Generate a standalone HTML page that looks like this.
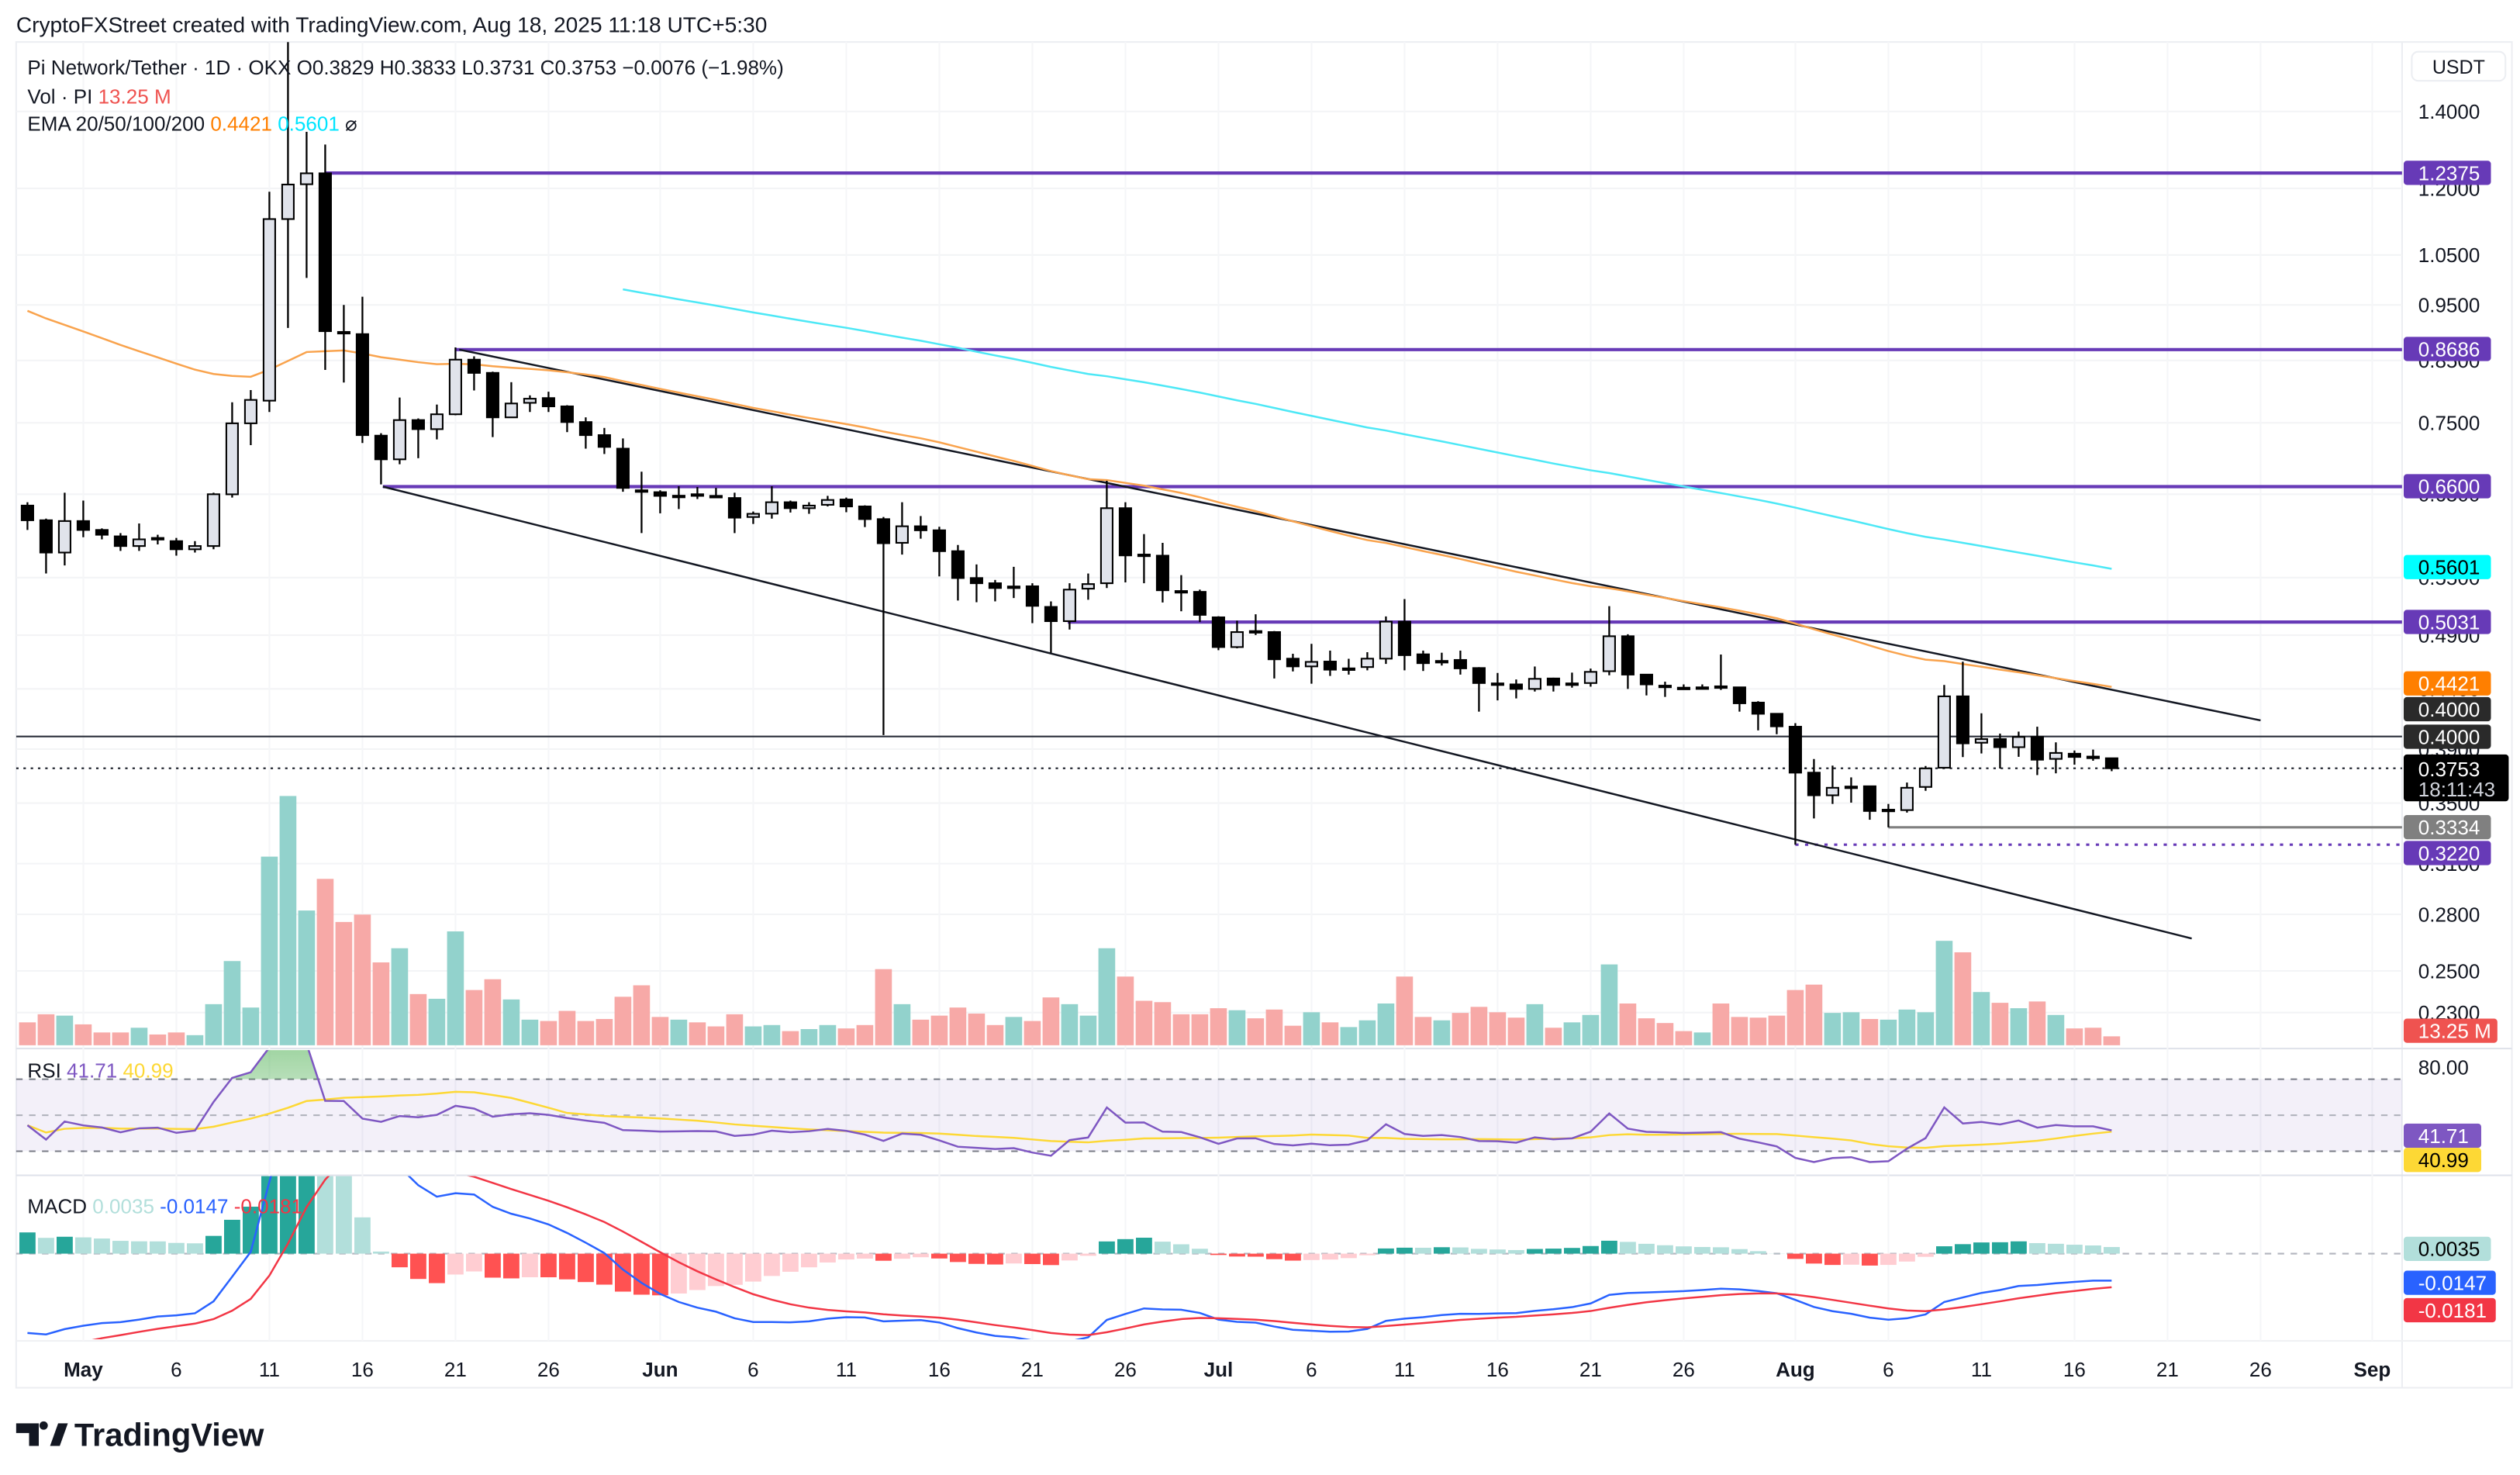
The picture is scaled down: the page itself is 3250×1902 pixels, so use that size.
<!DOCTYPE html>
<html><head><meta charset="utf-8"><style>
html,body{margin:0;padding:0;background:#fff;}
svg{display:block;font-family:"Liberation Sans",sans-serif;}
</style></head><body>
<svg id="chart" width="3250" height="1902" viewBox="0 0 1560 913" preserveAspectRatio="none" xmlns="http://www.w3.org/2000/svg">
<defs>
<clipPath id="cpPrice"><rect x="10" y="26" width="1477" height="622"/></clipPath>
<clipPath id="cpRsi"><rect x="10" y="650" width="1477" height="78"/></clipPath>
<clipPath id="cpMacd"><rect x="10" y="728" width="1477" height="101"/></clipPath>
<clipPath id="cpOB"><rect x="10" y="650" width="1477" height="18"/></clipPath>
<clipPath id="cpOS"><rect x="10" y="712.6" width="1477" height="16"/></clipPath>
<linearGradient id="gOB" x1="0" y1="0" x2="0" y2="1"><stop offset="0" stop-color="#4caf50" stop-opacity="0.55"/><stop offset="1" stop-color="#4caf50" stop-opacity="0.05"/></linearGradient>
<linearGradient id="gOS" x1="0" y1="0" x2="0" y2="1"><stop offset="0" stop-color="#f23645" stop-opacity="0.05"/><stop offset="1" stop-color="#f23645" stop-opacity="0.4"/></linearGradient>
</defs>
<text x="10" y="20" font-size="13.5" fill="#131722">CryptoFXStreet created with TradingView.com, Aug 18, 2025 11:18 UTC+5:30</text>
<rect x="10" y="26" width="1545" height="833" fill="none" stroke="#eceef2" stroke-width="1"/>
<line x1="1487" y1="26" x2="1487" y2="859" stroke="#eceef2"/>
<line x1="10" y1="649" x2="1555" y2="649" stroke="#e0e3eb"/>
<line x1="10" y1="727.5" x2="1555" y2="727.5" stroke="#e0e3eb"/>
<line x1="10" y1="830" x2="1555" y2="830" stroke="#f0f1f4"/>
<g id="grid"></g>
<g id="rsiBand"></g>
<g id="levels" clip-path="url(#cpPrice)"></g>
<g id="vol" clip-path="url(#cpPrice)"></g>
<g id="ema" clip-path="url(#cpPrice)"></g>
<g id="candles" clip-path="url(#cpPrice)"></g>
<g id="rsi" clip-path="url(#cpRsi)"></g>
<g id="macd" clip-path="url(#cpMacd)"></g>
<g id="axis"></g>
<g id="taxis"></g>
<g font-size="12.5">
<text x="17" y="46" fill="#131722">Pi Network/Tether · 1D · OKX  O0.3829  H0.3833  L0.3731  C0.3753  −0.0076 (−1.98%)</text>
<text x="17" y="64" fill="#131722">Vol · PI <tspan fill="#ef5350">13.25 M</tspan></text>
<text x="17" y="81" fill="#131722">EMA 20/50/100/200 <tspan fill="#ff7f00">0.4421</tspan> <tspan fill="#00e5ff">0.5601</tspan> ⌀</text>
<text x="17" y="667" fill="#131722">RSI <tspan fill="#7e57c2">41.71</tspan> <tspan fill="#fdd835">40.99</tspan></text>
<text x="17" y="751" fill="#131722">MACD <tspan fill="#b2dfdb">0.0035</tspan> <tspan fill="#2962ff">-0.0147</tspan> <tspan fill="#f23645">-0.0181</tspan></text>
</g>
<rect x="1493" y="32" width="58" height="18" rx="4" fill="#fff" stroke="#eceef2"/>
<text x="1522" y="45.5" font-size="12" text-anchor="middle" fill="#131722">USDT</text>
<g>
<path d="M10 881 h14 v14 h-6 v-8 h-8 z M27 885 a2.6 2.6 0 1 1 0.01 0 z M31 895 l5 -14 h6 l-5 14 z" fill="#131722"/>
<text x="46" y="895" font-size="20" font-weight="bold" fill="#131722">TradingView</text>
</g>
</svg>
<script>
// ---------- data ----------
const startDayOffset = -3; // first candle = Apr 28 (May 1 = day 0)
const openArr = [
.6354,.6170,.5783,.6160,.6051,.5974,.5859,.5955,.5917,.5821,
.5859,.6499,.7493,.7841,1.1284,1.2100,1.2368,.9000,.8960,.7310,
.6971,.7542,.7406,.7630,.8513,.8290,.7583,.7807,.7882,.7752,
.7512,.7318,.7122,.6552,.6527,.6479,.6500,.6479,.6451,.6210,
.6252,.6397,.6321,.6364,.6432,.6343,.6184,.5897,.6096,.6047,
.5799,.5495,.5438,.5400,.5405,.5186,.5040,.5379,.5438,.6321,
.5760,.5747,.5354,.5345,.5079,.4785,.4941,.4931,.4675,.4603,
.4648,.4582,.4597,.4675,.5035,.4716,.4650,.4663,.4588,.4449,
.4440,.4400,.4493,.4446,.4452,.4559,.4890,.4528,.4429,.4411,
.4411,.4423,.4414,.4281,.4186,.4079,.3720,.3555,.3614,.3620,
.3451,.3451,.3615,.3757,.4335,.3950,.3979,.3915,.3996,.3824,
.3864,.3842,.3829];
const highArr = [
.6397,.6190,.6520,.6418,.6070,.6013,.6130,.5993,.5955,.5917,
.6520,.7816,.8010,1.1919,1.6091,1.3440,1.3102,.9499,.9657,.7346,
.7891,.7567,.7780,.8725,.8570,.8310,.8137,.7925,.7983,.7770,
.7583,.7424,.7269,.6801,.6552,.6605,.6595,.6583,.6520,.6279,
.6605,.6418,.6397,.6479,.6457,.6357,.6210,.6397,.6222,.6090,
.5871,.5647,.5474,.5620,.5438,.5244,.5438,.5545,.6678,.6397,
.6001,.5897,.5527,.5369,.5090,.5045,.5110,.4941,.4721,.4816,
.4751,.4674,.4736,.5088,.5268,.4751,.4731,.4751,.4596,.4543,
.4484,.4602,.4500,.4546,.4583,.5194,.4909,.4528,.4464,.4440,
.4440,.4714,.4414,.4293,.4186,.4108,.3823,.3773,.3685,.3620,
.3494,.3647,.3770,.4435,.4647,.4190,.4023,.4039,.4079,.3953,
.3889,.3896,.3833];
const lowArr = [
.6051,.5545,.5636,.5963,.5938,.5802,.5802,.5878,.5747,.5783,
.5821,.6457,.7173,.7665,.9071,1.0029,.8339,.8132,.7203,.6630,
.6903,.6987,.7255,.7615,.8003,.7289,.7578,.7665,.7665,.7362,
.7122,.7046,.6533,.6013,.6256,.6310,.6438,.6457,.6013,.6124,
.6190,.6266,.6250,.6343,.6270,.6086,.4011,.5760,.5946,.5513,
.5253,.5235,.5244,.5279,.5020,.4731,.4956,.5261,.5386,.5447,
.5438,.5232,.5141,.5031,.4755,.4773,.4902,.4493,.4557,.4446,
.4516,.4528,.4567,.4626,.4567,.4561,.4611,.4528,.4204,.4300,
.4317,.4377,.4377,.4411,.4420,.4522,.4400,.4343,.4330,.4397,
.4397,.4391,.4204,.4049,.4018,.3220,.3394,.3494,.3503,.3385,
.3334,.3434,.3587,.3754,.3838,.3866,.3751,.3840,.3702,.3715,
.3780,.3810,.3731];
const closeArr = [
.6170,.5783,.6160,.6051,.5993,.5859,.5938,.5950,.5821,.5859,
.6500,.7493,.7853,1.1284,1.2093,1.2368,.9013,.8995,.7318,.6971,
.7542,.7406,.7630,.8513,.8290,.7583,.7797,.7872,.7752,.7512,
.7318,.7147,.6583,.6542,.6479,.6481,.6497,.6475,.6202,.6250,
.6397,.6321,.6354,.6426,.6343,.6184,.5892,.6096,.6047,.5799,
.5495,.5438,.5386,.5403,.5197,.5040,.5369,.5429,.6321,.5750,
.5755,.5362,.5350,.5104,.4785,.4931,.4937,.4669,.4603,.4645,
.4573,.4585,.4675,.5035,.4708,.4633,.4654,.4585,.4452,.4446,
.4400,.4490,.4435,.4449,.4553,.4890,.4528,.4440,.4426,.4408,
.4414,.4420,.4275,.4186,.4082,.3720,.3555,.3609,.3618,.3445,
.3454,.3609,.3752,.4335,.3945,.3979,.3915,.3996,.3818,.3870,
.3839,.3838,.3753];
const volumeM = [
34,46,44,31,19,19,26,16,19,15,
61,125,56,280,370,200,247,183,194,123,
144,76,69,169,82,98,68,38,36,51,
36,39,72,89,42,38,34,28,46,28,
30,21,24,30,25,30,113,61,38,44,
56,47,30,42,36,71,61,44,144,102,
66,64,46,46,55,52,40,53,29,49,
34,27,37,62,102,42,37,48,57,49,
41,61,26,34,45,120,62,40,33,21,
19,62,42,41,44,82,90,48,49,39,
38,53,49,155,138,79,63,55,65,45,
25,26,13.25];
const emaSlowSeed = 0.952;   // EMA50 value before first candle
const emaLongSeed = 0.98;    // EMA100 value at its first drawn candle
const emaLongStart = 32;
const macdSeeds = [0.63, 0.675, -0.057]; // ema12, ema26, signal
const rsiSeeds = [0.006, 0.0075];      // avg gain, avg loss
const priceTicks = [1.4,1.2,1.05,0.95,0.85,0.75,0.65,0.55,0.49,0.44,0.39,0.35,0.31,0.28,0.25,0.23];
const priceTickLabels = ["1.4000","1.2000","1.0500","0.9500","0.8500","0.7500","0.6500","0.5500","0.4900","0.4400","0.3900","0.3500","0.3100","0.2800","0.2500","0.2300"];
const dateDays = [0,5,10,15,20,25,31,36,41,46,51,56,61,66,71,76,81,86,92,97,102,107,112,117,123];
const dateLabels = ["May","6","11","16","21","26","Jun","6","11","16","21","26","Jul","6","11","16","21","26","Aug","6","11","16","21","26","Sep"];
const hLevels = [1.2375,0.8686,0.6600,0.5031];
const hLevelStartDay = [13,20,16.1,52.9];
const trendUpper = [[20.2,0.8686],[117,0.4131]];
const trendLower = [[16.1,0.6600],[113.3,0.2668]];

// ---------- scales ----------
const NS="http://www.w3.org/2000/svg";
const LN14=Math.log(1.4);
function xi(i){return 17+i*11.52;}
function xd(d){return xi(d-startDayOffset);}
function yP(p){return 69+(LN14-Math.log(p))*308.8;}
function yV(v){return 647-v*0.417;}
function yR(r){return 668+(70-r)*1.115;}
function yM(m){return 776-m*1150;}
function mk(tag,attrs,parent){const e=document.createElementNS(NS,tag);for(const k in attrs)e.setAttribute(k,attrs[k]);parent.appendChild(e);return e;}
const G=id=>document.getElementById(id);
const N=closeArr.length;
const xR=1487;

// grid
for(let k=0;k<priceTicks.length;k++){
  const l=mk('line',{x1:10,x2:xR,y1:yP(priceTicks[k]),y2:yP(priceTicks[k]),stroke:'#f3f4f6'},G('grid'));
  
  
}
for(let k=0;k<dateDays.length;k++){
  const l=mk('line',{x1:xd(dateDays[k]),x2:xd(dateDays[k]),y1:26,y2:830,stroke:'#f5f6f8'},G('grid'));
  
  
}
// RSI band
{
  const b=mk('rect',{x:10,y:yR(70),width:xR-10,height:yR(30)-yR(70),fill:'#7e57c2','fill-opacity':0.09},G('rsiBand'));
  
  
  [[70,'#787b86'],[50,'#b2b5be'],[30,'#787b86']].forEach(function(v){
    const l=mk('line',{x1:10,x2:xR,y1:yR(v[0]),y2:yR(v[0]),stroke:v[1],'stroke-dasharray':'4 4'},G('rsiBand'));
    
    
  });
  const z=mk('line',{x1:10,x2:xR,y1:yM(0),y2:yM(0),stroke:'#b2b5be','stroke-dasharray':'4 4'},G('macd'));
  
  
}
// horizontal levels
for(let k=0;k<hLevels.length;k++){
  const l=mk('line',{x1:xd(hLevelStartDay[k]),x2:xR,y1:yP(hLevels[k]),y2:yP(hLevels[k]),stroke:'#673ab7','stroke-width':2},G('levels'));
  
  
}
{
  let l=mk('line',{x1:10,x2:xR,y1:yP(0.4),y2:yP(0.4),stroke:'#2a2e39','stroke-width':1},G('levels'));
  
  
  l=mk('line',{x1:10,x2:xR,y1:yP(closeArr[N-1]),y2:yP(closeArr[N-1]),stroke:'#131722','stroke-width':1,'stroke-dasharray':'1.5 3'},G('levels'));
  
  
  l=mk('line',{x1:xd(97),x2:xR,y1:yP(0.3334),y2:yP(0.3334),stroke:'#808080','stroke-width':1.5},G('levels'));
  
  
  l=mk('line',{x1:xd(92),x2:xR,y1:yP(0.3220),y2:yP(0.3220),stroke:'#673ab7','stroke-width':1.5,'stroke-dasharray':'2 4'},G('levels'));
  
  
  [trendUpper,trendLower].forEach(function(t,ti){
    const e=mk('line',{x1:xd(t[0][0]),y1:yP(t[0][1]),x2:xd(t[1][0]),y2:yP(t[1][1]),stroke:'#131722','stroke-width':1.2},G('levels'));
    
    
  });
}
// volume
for(let i=0;i<N;i++){
  const up=closeArr[i]>=openArr[i];
  const r=mk('rect',{x:xi(i)-5.2,y:yV(volumeM[i]),width:10.4,height:647-yV(volumeM[i]),fill:up?'#92d2cc':'#f7a9a7'},G('vol'));
  
  
}
// EMAs
{
  const a=2/51;let e=emaSlowSeed;const pts=[];
  for(let i=0;i<N;i++){e=a*closeArr[i]+(1-a)*e;pts.push(xi(i).toFixed(1)+','+yP(e).toFixed(1));}
  const p=mk('polyline',{points:pts.join(' '),fill:'none',stroke:'#f9a34d','stroke-width':1.2},G('ema'));
  
  
  const b=2/101;let e2=emaLongSeed;const pts2=[];
  for(let i=emaLongStart;i<N;i++){if(i>emaLongStart)e2=b*closeArr[i]+(1-b)*e2;pts2.push(xi(i).toFixed(1)+','+yP(e2).toFixed(1));}
  const q=mk('polyline',{points:pts2.join(' '),fill:'none',stroke:'#4de8f6','stroke-width':1.2},G('ema'));
  
  
}
// candles
for(let i=0;i<N;i++){
  const x=xi(i),o=yP(openArr[i]),c=yP(closeArr[i]),h=yP(highArr[i]),l=yP(lowArr[i]);
  const up=closeArr[i]>=openArr[i];
  const w=mk('line',{x1:x,x2:x,y1:h,y2:l,stroke:'#000','stroke-width':1.1},G('candles'));
  
  
  const top=Math.min(o,c),ht=Math.max(Math.abs(o-c),1);
  const b=mk('rect',{x:x-3.6,y:top,width:7.2,height:ht,fill:up?'#e0e3eb':'#000',stroke:'#000','stroke-width':1},G('candles'));
  
  
}
// RSI
{
  let ag=rsiSeeds[0],al=rsiSeeds[1];const r=[];
  for(let i=0;i<N;i++){
    if(i>0){const ch=closeArr[i]-closeArr[i-1];ag=(ag*13+Math.max(ch,0))/14;al=(al*13+Math.max(-ch,0))/14;}
    r.push(100-100/(1+ag/al));
  }
  const pts=r.map((v,i)=>xi(i).toFixed(1)+','+yR(v).toFixed(1));
  const area='M'+xi(0)+','+yR(70)+' L'+pts.join(' L')+' L'+xi(N-1)+','+yR(70)+'Z';
  const ob=mk('path',{d:area,fill:'url(#gOB)','clip-path':'url(#cpOB)'},G('rsi'));
  
  
  const ma=r.map((v,i)=>{const s=Math.max(0,i-13);let t=0;for(let j=s;j<=i;j++)t+=r[j];return xi(i).toFixed(1)+','+yR(t/(i-s+1)).toFixed(1);});
  const m=mk('polyline',{points:ma.join(' '),fill:'none',stroke:'#fdd835','stroke-width':1.2},G('rsi'));
  
  
  const l=mk('polyline',{points:pts.join(' '),fill:'none',stroke:'#7e57c2','stroke-width':1.2},G('rsi'));
  
  
}
// MACD
{
  let e12=macdSeeds[0],e26=macdSeeds[1],sig=macdSeeds[2],prevH=null;const mp=[],sp=[];
  for(let i=0;i<N;i++){
    e12=2/13*closeArr[i]+(1-2/13)*e12;e26=2/27*closeArr[i]+(1-2/27)*e26;
    const m=e12-e26;sig=0.2*m+0.8*sig;const h=m-sig;
    let col;
    if(h>=0)col=(prevH!==null&&h<prevH)?'#b2dfdb':'#26a69a';else col=(prevH!==null&&h>prevH)?'#ffcdd2':'#ff5252';
    prevH=h;
    const y0=yM(0),y1=yM(h);
    const r=mk('rect',{x:xi(i)-5,y:Math.min(y0,y1),width:10,height:Math.abs(y1-y0),fill:col},G('macd'));
    
    
    mp.push(xi(i).toFixed(1)+','+yM(m).toFixed(1));sp.push(xi(i).toFixed(1)+','+yM(sig).toFixed(1));
  }
  const a=mk('polyline',{points:mp.join(' '),fill:'none',stroke:'#2962ff','stroke-width':1.2},G('macd'));
  
  
  const b=mk('polyline',{points:sp.join(' '),fill:'none',stroke:'#f23645','stroke-width':1.2},G('macd'));
  
  
}
// price axis ticks
for(let k=0;k<priceTicks.length;k++){
  const t=mk('text',{x:1497,y:yP(priceTicks[k])+4.5,'font-size':12.5,fill:'#131722'},G('axis'));
  t.textContent=priceTickLabels[k];
  
  
}
{
  const t=mk('text',{x:1497,y:665,'font-size':12.5,fill:'#131722'},G('axis'));
  t.textContent='80.00';
  
  
}
// tags
const tags=[
 [107,'1.2375','#673ab7','#fff',54],[216,'0.8686','#673ab7','#fff',54],[301,'0.6600','#673ab7','#fff',54],
 [351,'0.5601','#00ffff','#000',54],[385,'0.5031','#673ab7','#fff',54],[423,'0.4421','#ff7f00','#fff',54],
 [439,'0.4000','#2a2a2a','#fff',54],[456,'0.4000','#2a2a2a','#fff',54],[512,'0.3334','#808080','#fff',54],
 [528,'0.3220','#673ab7','#fff',54],[638,'13.25 M','#ef5350','#fff',58],
 [703,'41.71','#7e57c2','#fff',48],[718,'40.99','#fdd835','#000',48],
 [773,'0.0035','#b2dfdb','#000',54],[794,'-0.0147','#2962ff','#fff',57],[811,'-0.0181','#f23645','#fff',57]];
tags.forEach(function(t){
  const r=mk('rect',{x:1488,y:t[0]-7.5,width:t[4],height:15,rx:2,fill:t[2]},G('axis'));
  
  
  const s=mk('text',{x:1497,y:t[0]+4.5,'font-size':12.5,fill:t[3]},G('axis'));
  s.textContent=t[1];
  
  
});
{
  const r=mk('rect',{x:1488,y:467,width:65,height:29,rx:2,fill:'#000'},G('axis'));
  
  
  const s=mk('text',{x:1497,y:480.5,'font-size':12.5,fill:'#fff'},G('axis'));
  s.textContent=closeArr[N-1].toFixed(4);
  
  
  const c=mk('text',{x:1497,y:493,'font-size':12.5,fill:'#d1d4dc'},G('axis'));
  c.textContent='18:11:43';
  
  
}
// time axis
for(let k=0;k<dateDays.length;k++){
  const bold=isNaN(+dateLabels[k]);
  const t=mk('text',{x:xd(dateDays[k]),y:852,'font-size':12.5,'text-anchor':'middle',fill:'#131722','font-weight':bold?'bold':'normal'},G('taxis'));
  t.textContent=dateLabels[k];
  
  
}
</script>
</body></html>
